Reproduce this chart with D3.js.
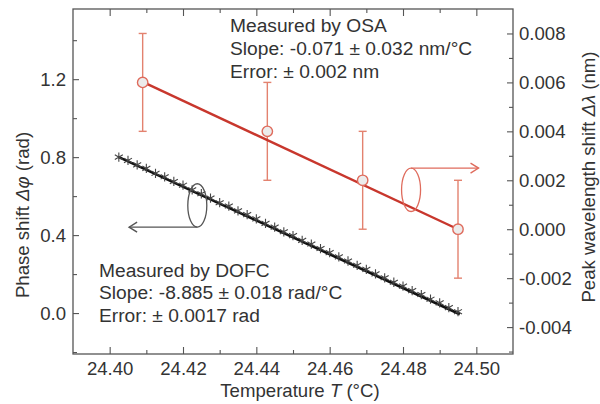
<!DOCTYPE html>
<html><head><meta charset="utf-8">
<script src="https://cdn.jsdelivr.net/npm/d3@7"></script>
<style>
html,body{margin:0;padding:0;background:#fff;}
svg text{font-family:"Liberation Sans",Arial,Helvetica,sans-serif;fill:#333;}
</style></head>
<body><svg id="chart" width="600" height="404"></svg>
<script>
// ---- data ----
const xTicks = [24.40, 24.42, 24.44, 24.46, 24.48, 24.50];
const xMinor = [24.41, 24.43, 24.45, 24.47, 24.49];
const leftTicks = [0.0, 0.4, 0.8, 1.2];
const leftMinor = [-0.2, 0.2, 0.6, 1.0, 1.4];
const rightTicks = [-0.004, -0.002, 0.000, 0.002, 0.004, 0.006, 0.008];
const rightMinor = [-0.005, -0.003, -0.001, 0.001, 0.003, 0.005, 0.007];

// OSA measurement (right axis)
const osaTemp = [24.409, 24.443, 24.469, 24.495];
const osaShift = [0.0060, 0.0040, 0.0020, 0.0000];
const osaErr = [0.0020, 0.0020, 0.0020, 0.0020];
const osaFitTemp = [24.409, 24.495];
const osaFitShift = [0.00602, 0.0000];

// DOFC measurement (left axis)
const dofcTemp = [24.4025, 24.4050, 24.4075, 24.4100, 24.4125, 24.4150, 24.4175, 24.4200, 24.4225, 24.4250,
  24.4275, 24.4300, 24.4325, 24.4350, 24.4375, 24.4400, 24.4425, 24.4450, 24.4475, 24.4500,
  24.4525, 24.4550, 24.4575, 24.4600, 24.4625, 24.4650, 24.4675, 24.4700, 24.4725, 24.4750,
  24.4775, 24.4800, 24.4825, 24.4850, 24.4875, 24.4900, 24.4925, 24.4950];
const dofcPhase = [0.795, 0.778, 0.755, 0.737, 0.712, 0.694, 0.670, 0.651, 0.627, 0.607,
  0.585, 0.561, 0.544, 0.519, 0.500, 0.478, 0.455, 0.436, 0.412, 0.392,
  0.368, 0.349, 0.326, 0.305, 0.283, 0.262, 0.240, 0.219, 0.196, 0.176,
  0.153, 0.133, 0.110, 0.090, 0.066, 0.047, 0.023, 0.002];
const dofcFitTemp = [24.4025, 24.4955];
const dofcFitPhase = [0.800, -0.006];

const osaText = ["Measured by OSA", "Slope: -0.071 \u00b1 0.032 nm/\u00b0C", "Error: \u00b1 0.002 nm"];
const dofcText = ["Measured by DOFC", "Slope: -8.885 \u00b1 0.018 rad/\u00b0C", "Error: \u00b1 0.0017 rad"];

// ---- layout ----
const L = 73, R = 513, T = 9, B = 354;
const FS = 18.6;
const svg = d3.select("#chart");
const x = d3.scaleLinear().domain([24.39, 24.51]).range([L, R]);
const yL = d3.scaleLinear().domain([-0.21, 1.56]).range([B, T]);
const yR = d3.scaleLinear().domain([-0.0051, 0.0090]).range([B, T]);

const axisCol = "#555";
function styleAxis(g) {
  g.select(".domain").remove();
  g.selectAll(".tick line").attr("stroke", axisCol).attr("stroke-width", 1.1);
  g.selectAll(".tick text").attr("font-size", FS).attr("fill", "#333")
    .attr("font-family", '"Liberation Sans",Arial,sans-serif');
}

// bottom axis
svg.append("g").attr("transform", `translate(0,${B})`)
  .call(d3.axisBottom(x).tickValues(xTicks).tickFormat(d3.format(".2f")).tickSize(-7).tickPadding(8))
  .call(styleAxis);
svg.append("g").attr("transform", `translate(0,${B})`)
  .call(d3.axisBottom(x).tickValues(xMinor).tickFormat("").tickSize(-4))
  .call(styleAxis);
// top axis
svg.append("g").attr("transform", `translate(0,${T})`)
  .call(d3.axisTop(x).tickValues(xTicks).tickFormat("").tickSize(-7))
  .call(styleAxis);
svg.append("g").attr("transform", `translate(0,${T})`)
  .call(d3.axisTop(x).tickValues(xMinor).tickFormat("").tickSize(-4))
  .call(styleAxis);
// left axis
svg.append("g").attr("transform", `translate(${L},0)`)
  .call(d3.axisLeft(yL).tickValues(leftTicks).tickFormat(d3.format(".1f")).tickSize(-6).tickPadding(7))
  .call(styleAxis);
svg.append("g").attr("transform", `translate(${L},0)`)
  .call(d3.axisLeft(yL).tickValues(leftMinor).tickFormat("").tickSize(-4))
  .call(styleAxis);
// right axis
svg.append("g").attr("transform", `translate(${R},0)`)
  .call(d3.axisRight(yR).tickValues(rightTicks).tickFormat(d => d.toFixed(3)).tickSize(-6).tickPadding(6))
  .call(styleAxis);
svg.append("g").attr("transform", `translate(${R},0)`)
  .call(d3.axisRight(yR).tickValues(rightMinor).tickFormat("").tickSize(-4))
  .call(styleAxis);

// frame
svg.append("rect").attr("x", L).attr("y", T).attr("width", R - L).attr("height", B - T)
  .attr("fill", "none").attr("stroke", axisCol).attr("stroke-width", 1.3);

// axis titles
svg.append("text").attr("x", 300).attr("y", 397).attr("text-anchor", "middle").attr("font-size", FS)
  .html('Temperature <tspan font-style="italic">T</tspan> (\u00b0C)');
svg.append("text").attr("transform", "translate(29,215) rotate(-90)").attr("text-anchor", "middle").attr("font-size", FS)
  .html('Phase shift <tspan font-style="italic">\u0394\u03c6</tspan> (rad)');
svg.append("text").attr("transform", "translate(595,177) rotate(-90)").attr("text-anchor", "middle").attr("font-size", FS)
  .html('Peak wavelength shift <tspan font-style="italic">\u0394\u03bb</tspan> (nm)');

// ---- DOFC series ----
const dofcLine = d3.line().x((d, i) => x(dofcFitTemp[i])).y(d => yL(d));
svg.append("path").datum(dofcFitPhase).attr("d", dofcLine)
  .attr("fill", "none").attr("stroke", "#111").attr("stroke-width", 2.6);
const sym = d3.symbol().type(d3.symbolAsterisk).size(60);
svg.append("g").selectAll("path").data(dofcPhase).join("path")
  .attr("transform", (d, i) => `translate(${x(dofcTemp[i])},${yL(d) - 1})`)
  .attr("d", sym).attr("fill", "none").attr("stroke", "#444").attr("stroke-width", 1.1);

// ---- OSA series ----
const redLine = "#c8372d", redLight = "#e3826f";
svg.append("g").selectAll("g").data(osaShift).join("g").each(function (d, i) {
  const g = d3.select(this), cx = x(osaTemp[i]);
  const y1 = yR(d + osaErr[i]), y2 = yR(d - osaErr[i]);
  g.append("line").attr("x1", cx).attr("x2", cx).attr("y1", y1).attr("y2", y2).attr("stroke", redLight).attr("stroke-width", 1.4);
  g.append("line").attr("x1", cx - 4).attr("x2", cx + 4).attr("y1", y1).attr("y2", y1).attr("stroke", redLight).attr("stroke-width", 1.4);
  g.append("line").attr("x1", cx - 4).attr("x2", cx + 4).attr("y1", y2).attr("y2", y2).attr("stroke", redLight).attr("stroke-width", 1.4);
});
const osaLine = d3.line().x((d, i) => x(osaFitTemp[i])).y(d => yR(d));
svg.append("path").datum(osaFitShift).attr("d", osaLine)
  .attr("fill", "none").attr("stroke", redLine).attr("stroke-width", 2.4);
svg.append("g").selectAll("circle").data(osaShift).join("circle")
  .attr("cx", (d, i) => x(osaTemp[i])).attr("cy", d => yR(d)).attr("r", 5.2)
  .attr("fill", "#ececec").attr("stroke", "#df6b5c").attr("stroke-width", 1.4);

// ---- annotations: ellipses + arrows ----
function arrowHead(px, py, dir, col) {
  svg.append("path").attr("d", `M${px - dir * 8},${py - 5}L${px},${py}L${px - dir * 8},${py + 5}`)
    .attr("fill", "none").attr("stroke", col).attr("stroke-width", 1.4);
}
// black (left axis)
{
  const cx = x(24.4239), cy = yL(0.552), rx = 9.5, ry = 21.7, col = "#555";
  svg.append("ellipse").attr("cx", cx).attr("cy", cy).attr("rx", rx).attr("ry", ry)
    .attr("fill", "none").attr("stroke", col).attr("stroke-width", 1.3);
  const ex = x(24.4053);
  svg.append("line").attr("x1", cx).attr("x2", ex).attr("y1", cy + ry).attr("y2", cy + ry).attr("stroke", col).attr("stroke-width", 1.4);
  arrowHead(ex, cy + ry, -1, col);
}
// red (right axis)
{
  const cx = x(24.4822), cy = yR(0.00161), rx = 9.5, ry = 21.7, col = "#df6b5c";
  svg.append("ellipse").attr("cx", cx).attr("cy", cy).attr("rx", rx).attr("ry", ry)
    .attr("fill", "none").attr("stroke", col).attr("stroke-width", 1.3);
  const ex = x(24.5006);
  svg.append("line").attr("x1", cx).attr("x2", ex).attr("y1", cy - ry).attr("y2", cy - ry).attr("stroke", col).attr("stroke-width", 1.4);
  arrowHead(ex, cy - ry, 1, col);
}

// ---- text blocks ----
const osaY = [32, 54.5, 78];
svg.append("g").selectAll("text").data(osaText).join("text")
  .attr("x", 230).attr("y", (d, i) => osaY[i]).attr("font-size", 19.2).text(d => d);
const dofcY = [277, 299, 322];
svg.append("g").selectAll("text").data(dofcText).join("text")
  .attr("x", 99).attr("y", (d, i) => dofcY[i]).attr("font-size", 19.2).text(d => d);
</script>
</body></html>
